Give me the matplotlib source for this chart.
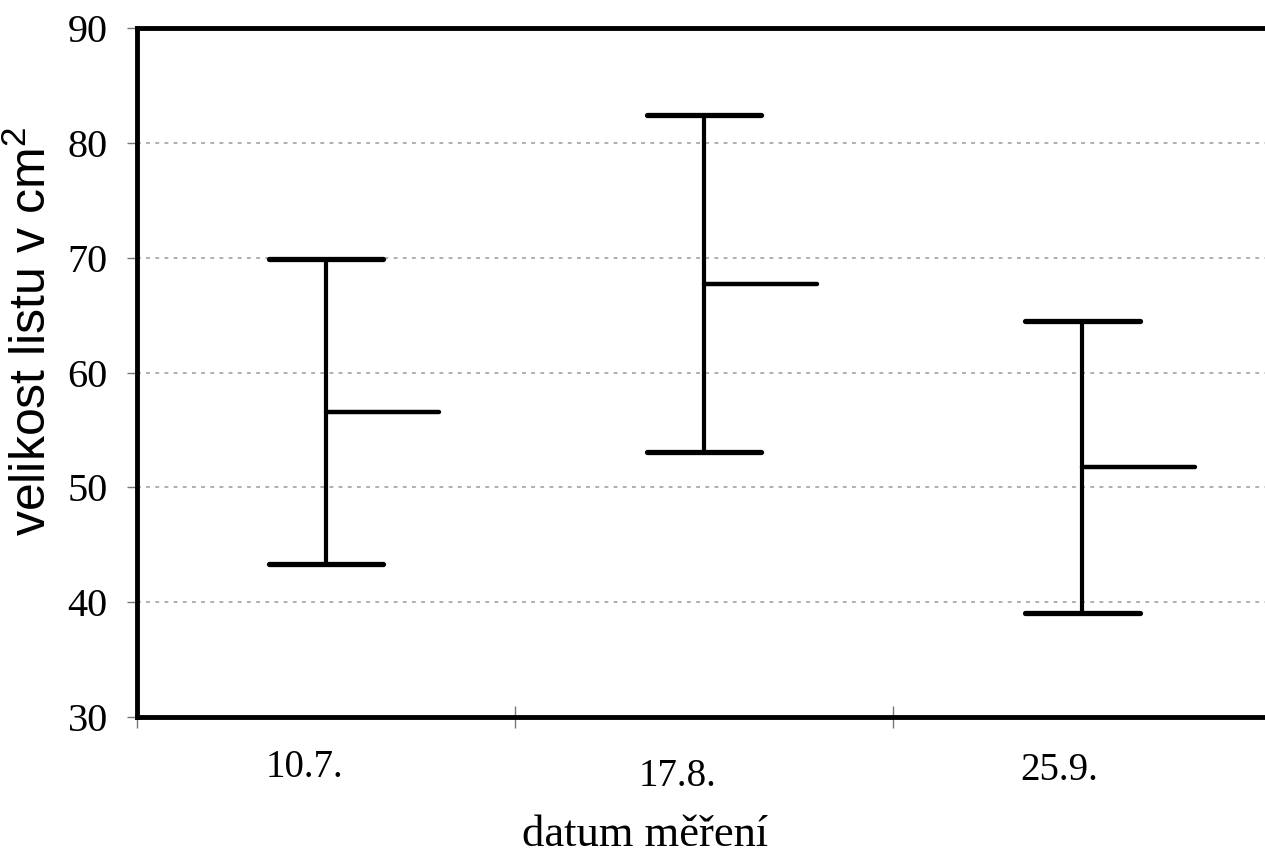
import matplotlib
matplotlib.use("Agg")
import matplotlib.pyplot as plt

# data
dates = ["10.7.", "17.8.", "25.9."]
leaf_max = [69.9, 82.4, 64.5]
leaf_mean = [56.6, 67.7, 51.8]
leaf_min = [43.3, 53.1, 39.1]

y_ticks = [30, 40, 50, 60, 70, 80, 90]
grid_levels = [40, 50, 60, 70, 80]

# the scanned labels are a bit shifted from the category centres
label_dx = [-0.056, -0.071, -0.061]
label_y = [-0.073, -0.087, -0.077]

serif = "Liberation Serif"
sans = "Liberation Sans"

plt.rcParams["mathtext.fontset"] = "custom"
plt.rcParams["mathtext.rm"] = sans
plt.rcParams["mathtext.it"] = sans + ":italic"

fig = plt.figure(figsize=(12.65, 8.59), dpi=100)
ax = fig.add_axes([0.1083, 0.1653, 0.8965, 0.802])

x = list(range(len(dates)))
cap = 0.152
mean_len = 0.30

# gridlines first, so the bars sit on top
ax.hlines(grid_levels, -0.5, 2.5, colors="#9a9a9a", linewidth=1.1,
          linestyles=(0, (2.5, 3.5)), zorder=1)

ax.vlines(x, leaf_min, leaf_max, colors="black", linewidth=3.0, zorder=3)
ax.hlines(leaf_max, [i - cap for i in x], [i + cap for i in x],
          colors="black", linewidth=3.8, zorder=3, capstyle="round")
ax.hlines(leaf_min, [i - cap for i in x], [i + cap for i in x],
          colors="black", linewidth=3.8, zorder=3, capstyle="round")
ax.hlines(leaf_mean, x, [i + mean_len for i in x],
          colors="black", linewidth=3.2, zorder=3, capstyle="round")

ax.set_xlim(-0.5, 2.5)
ax.set_ylim(30, 90)

ax.set_yticks(y_ticks)
ax.set_yticklabels([str(v) for v in y_ticks], fontfamily=serif, fontsize=29)
ax.tick_params(axis="y", direction="out", length=7, width=1, color="#777777", pad=14)

# x ticks sit on the category boundaries, labels placed by hand
ax.set_xticks([-0.5, 0.5, 1.5, 2.5])
ax.set_xticklabels([])
ax.tick_params(axis="x", direction="inout", length=16, width=1, color="#777777")

for i, lab in enumerate(dates):
    ax.text(x[i] + label_dx[i], label_y[i], lab, transform=ax.get_xaxis_transform(),
            ha="center", va="center", fontfamily=serif, fontsize=28)

for side in ["left", "bottom", "top"]:
    ax.spines[side].set_linewidth(3.5)
    ax.spines[side].set_color("black")
ax.spines["right"].set_visible(False)

ax.text(-0.0926, 0.56, r"velikost listu v cm$^{2}$", transform=ax.transAxes, rotation=90,
        ha="center", va="center", fontfamily=sans, fontsize=36)
ax.text(0.448, -0.171, "datum měření", transform=ax.transAxes,
        ha="center", va="center", fontfamily=serif, fontsize=32)

fig.savefig("out.png", dpi=100)
